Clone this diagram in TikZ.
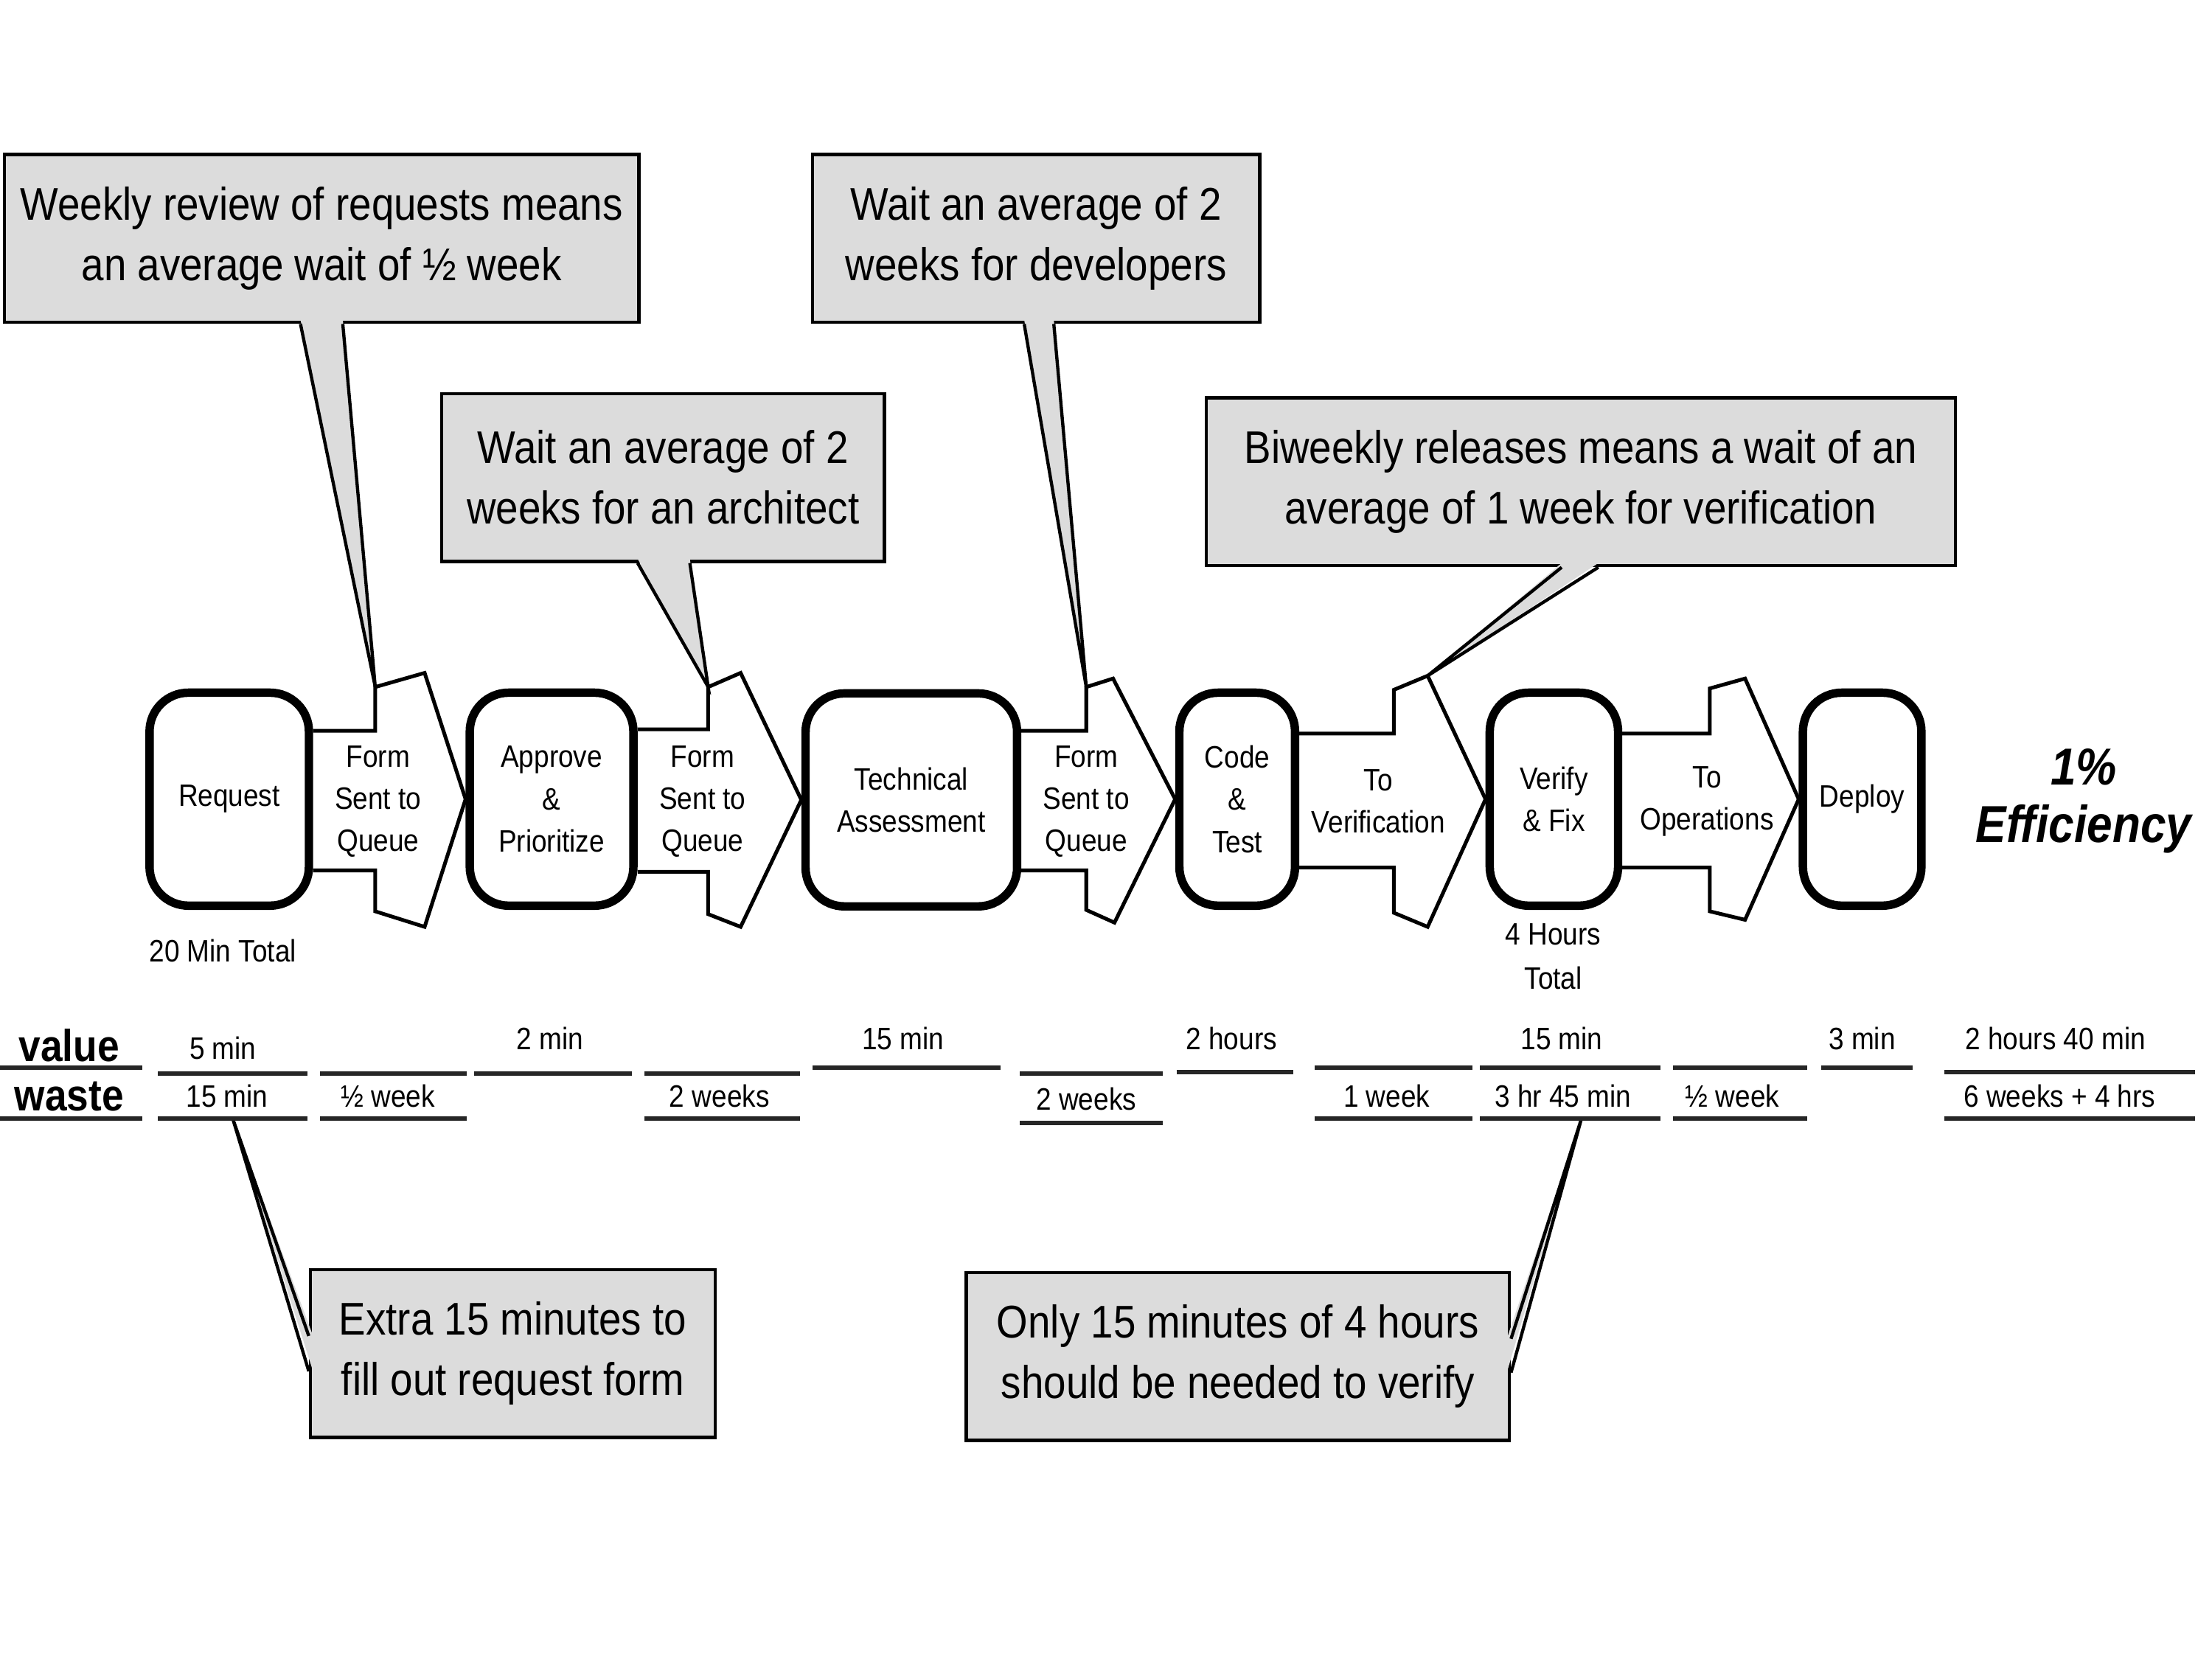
\documentclass[tikz,border=0pt]{standalone}
\usepackage{fontspec}
\setmainfont{Liberation Sans}[FakeStretch=0.88]
\definecolor{CalloutGray}{HTML}{DCDCDC}
\usetikzlibrary{calc,backgrounds}

\begin{document}
\begin{tikzpicture}[x=0.02cm, y=-0.02cm,
    proc/.style={draw, line width=3.4pt, rounded corners=0.55cm, fill=white, minimum height=3.02cm, align=center, inner sep=0pt, font=\fontsize{12.5}{17}\selectfont},
    flowarrow/.style={draw, line width=1.5pt, fill=white, line join=miter},
    flowtext/.style={align=center, inner sep=0pt, font=\fontsize{12.5}{17}\selectfont},
    callout/.style={draw, line width=1.3pt, fill=CalloutGray, align=center, minimum height=2.38cm, inner sep=0pt, font=\fontsize{18.5}{24.4}\selectfont},
    tailline/.style={line width=1.3pt, line join=miter},
    cell/.style={inner sep=0pt, font=\fontsize{12.5}{15}\selectfont},
    rowlabel/.style={inner sep=0pt, font=\fontsize{18}{20}\selectfont\bfseries},
    rule/.style={line width=1.8pt, black!85}]
    \useasboundingbox (0,0) rectangle (1568,1176);

    % process steps
    \node[proc, minimum width=2.26cm] (req) at (162.5,566.5) {Request};
    \node[proc, minimum width=2.32cm] (appr) at (391,566.5) {Approve\\\&\\Prioritize};
    \node[proc, minimum width=3.0cm] (tech) at (646,567) {Technical\\Assessment};
    \node[proc, minimum width=1.64cm] (code) at (877,566.5) {Code\\\&\\Test};
    \node[proc, minimum width=1.82cm] (verif) at (1101.5,566.5) {Verify\\\& Fix};
    \node[proc, minimum width=1.68cm] (deploy) at (1320,566.5) {Deploy};

    % block arrows between the steps
    \begin{scope}[on background layer]
        \draw[flowarrow] (0,518 -| req.east) -- (266,518) -- (266,487) coordinate (q1top) -- (301,477) -- (appr.west) -- (301,657) -- (266,646) -- (266,617) -- (0,617 -| req.east);
        \draw[flowarrow] (0,517 -| appr.east) -- (502,517) -- (502,487) coordinate (q2top) -- (525,477) -- (tech.west) -- (525,657) -- (502,648) -- (502,618) -- (0,618 -| appr.east);
        \draw[flowarrow] (0,518 -| tech.east) -- (770,518) -- (770,487) coordinate (q3top) -- (789,481) -- (code.west) -- (790,654) -- (770,645) -- (770,617) -- (0,617 -| tech.east);
        \draw[flowarrow] (0,520 -| code.east) -- (988,520) -- (988,489) -- (1012,479) coordinate (vtop) -- (verif.west) -- (1012,657) -- (988,647) -- (988,615) -- (0,615 -| code.east);
        \draw[flowarrow] (0,520 -| verif.east) -- (1212,520) -- (1212,488) -- (1237,481) -- (deploy.west) -- (1237,652) -- (1212,646) -- (1212,615) -- (0,615 -| verif.east);
    \end{scope}

    \node[flowtext] (formq1) at (268,568) {Form\\Sent to\\Queue};
    \node[flowtext] (formq2) at (498,568) {Form\\Sent to\\Queue};
    \node[flowtext] (formq3) at (770,568) {Form\\Sent to\\Queue};
    \node[flowtext] (toverif) at (977,568) {To\\Verification};
    \node[flowtext] (toops) at (1210,568) {To\\Operations};

    \node[flowtext] (reqtotal) at (158,674) {20 Min Total};
    \node[flowtext, font=\fontsize{12.5}{18}\selectfont] (veriftotal) at (1101,678) {4 Hours\\Total};
    \node[align=center, font=\fontsize{21}{23.2}\selectfont\bfseries\itshape] (eff) at (1477,568) {1\%\\Efficiency};

    % callouts
    \node[callout, minimum width=9.0cm] (wkreview) at (228,169) {Weekly review of requests means\\an average wait of ½ week};
    \node[callout, minimum width=6.28cm] (archwait) at (470,338.5) {Wait an average of 2\\weeks for an architect};
    \node[callout, minimum width=6.34cm] (devwait) at (734.5,169) {Wait an average of 2\\weeks for developers};
    \node[callout, minimum width=10.62cm] (relwait) at (1120.5,341.5) {Biweekly releases means a wait of an\\average of 1 week for verification};
    \node[callout, minimum width=5.74cm] (extraform) at (363.5,959.5) {Extra 15 minutes to\\fill out request form};
    \node[callout, minimum width=7.7cm] (verifywait) at (877.5,961.5) {Only 15 minutes of 4 hours\\should be needed to verify};

    % callout tails
    \fill[CalloutGray] ($(213,0 |- wkreview.south)+(0,-3)$) -- (q1top) -- ($(243,0 |- wkreview.south)+(0,-3)$) -- cycle;
    \draw[tailline] (213,0 |- wkreview.south) -- (q1top) -- (243,0 |- wkreview.south);
    \fill[CalloutGray] ($(452,0 |- archwait.south)+(0,-3)$) -- (q2top) -- ($(489,0 |- archwait.south)+(0,-3)$) -- cycle;
    \draw[tailline] (452,0 |- archwait.south) -- (q2top) -- (489,0 |- archwait.south);
    \fill[CalloutGray] ($(726,0 |- devwait.south)+(0,-3)$) -- (q3top) -- ($(747,0 |- devwait.south)+(0,-3)$) -- cycle;
    \draw[tailline] (726,0 |- devwait.south) -- (q3top) -- (747,0 |- devwait.south);
    \fill[CalloutGray] ($(1107,0 |- relwait.south)+(0,-3)$) -- (vtop) -- ($(1133,0 |- relwait.south)+(0,-3)$) -- cycle;
    \draw[tailline] (1107,0 |- relwait.south) -- (vtop) -- (1133,0 |- relwait.south);

    \coordinate (wreqmid) at (165,793);
    \coordinate (wverifmid) at (1121,793);
    \fill[CalloutGray] ($(0,947 -| extraform.west)+(3,0)$) -- (wreqmid) -- ($(0,972 -| extraform.west)+(3,0)$) -- cycle;
    \draw[tailline] (0,947 -| extraform.west) -- (wreqmid) -- (0,972 -| extraform.west);
    \fill[CalloutGray] ($(0,949 -| verifywait.east)+(-3,0)$) -- (wverifmid) -- ($(0,973 -| verifywait.east)+(-3,0)$) -- cycle;
    \draw[tailline] (0,949 -| verifywait.east) -- (wverifmid) -- (0,973 -| verifywait.east);

    % value / waste table
    \node[rowlabel] (value) at (49,741) {value};
    \node[rowlabel] (waste) at (49,777) {waste};
    \foreach \a/\b/\y in {0/101/757, 112/218/761, 227/331/761, 336/448/761, 457/567/761, 576/709/757, 723/824/761, 834/917/760, 932/1044/757, 1049/1177/757, 1186/1281/757, 1291/1356/757, 1378/1556/760}
        \draw[rule] (\a,\y) -- (\b,\y);
    \foreach \a/\b/\y in {0/101/793, 112/218/793, 227/331/793, 457/567/793, 723/824/796, 932/1044/793, 1049/1177/793, 1186/1281/793, 1378/1556/793}
        \draw[rule] (\a,\y) -- (\b,\y);

    \node[cell] (vreq) at (158,743) {5 min};
    \node[cell] (vappr) at (390,736) {2 min};
    \node[cell] (vtech) at (640,736) {15 min};
    \node[cell] (vcode) at (873,736) {2 hours};
    \node[cell] (vverif) at (1107,736) {15 min};
    \node[cell] (vdeploy) at (1320,736) {3 min};
    \node[cell] (vtotal) at (1457,736) {2 hours 40 min};

    \node[cell] (wreq) at (161,777) {15 min};
    \node[cell] (wq1) at (275,777) {½ week};
    \node[cell] (wq2) at (510,777) {2 weeks};
    \node[cell] (wq3) at (770,779) {2 weeks};
    \node[cell] (wtoverif) at (983,777) {1 week};
    \node[cell] (wverif) at (1108,777) {3 hr 45 min};
    \node[cell] (wtoops) at (1228,777) {½ week};
    \node[cell] (wtotal) at (1460,777) {6 weeks + 4 hrs};
\end{tikzpicture}
\end{document}
